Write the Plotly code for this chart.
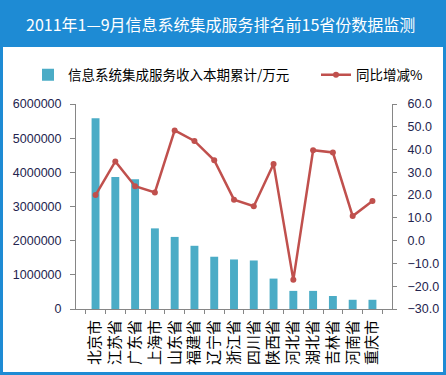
import plotly.graph_objects as go

categories = ["北京市", "江苏省", "广东省", "上海市", "山东省", "福建省", "辽宁省", "浙江省",
              "四川省", "陕西省", "河北省", "湖北省", "吉林省", "河南省", "重庆市"]
revenue = [5580000, 3860000, 3800000, 2360000, 2110000, 1850000, 1530000, 1450000,
           1420000, 890000, 530000, 530000, 380000, 270000, 270000]
growth = [20.0, 34.8, 23.9, 21.2, 48.4, 43.8, 35.3, 18.0, 15.1, 33.7, -17.2, 39.7, 38.7, 10.8, 17.4]

bar_name = "信息系统集成服务收入本期累计/万元"
line_name = "同比增减%"
title_text = "2011年1—9月信息系统集成服务排名前15省份数据监测"

W, H = 446, 375
L, R, T, B = 76, 392, 104, 309
def px(p):
    return (p - L) / (R - L)
def py(p):
    return (B - p) / (B - T)

BLUE = "#1E8BD4"
AX = "#868686"
TICKC = "#24244E"
FONT = "Noto Sans CJK SC, Noto Sans, sans-serif"
NUMFONT = "Liberation Sans, Arial, sans-serif"

fig = go.Figure()
fig.add_trace(go.Bar(x=categories, y=revenue, name=bar_name, marker_color="#4BACC6",
                     marker_line_width=0, yaxis="y", legend="legend"))
fig.add_trace(go.Scatter(x=categories, y=growth, name=line_name, mode="lines+markers",
                         line=dict(color="#C0504D", width=2.5),
                         marker=dict(color="#C0504D", size=6), yaxis="y2", legend="legend2"))

legend_common = dict(orientation="h", yanchor="middle", itemwidth=30,
                     font=dict(size=13.5, family=FONT, color="#000000"),
                     bgcolor="rgba(0,0,0,0)")

fig.update_layout(
    width=W, height=H,
    margin=dict(l=L, r=W - R, t=T, b=H - B, pad=0, autoexpand=False),
    paper_bgcolor=BLUE, plot_bgcolor="white",
    bargap=0.6,
    font=dict(family=FONT, color="#000000"),
    showlegend=True,
    legend=dict(x=px(28), xanchor="left", y=py(75), **legend_common),
    legend2=dict(x=px(316), xanchor="left", y=py(75), **legend_common),
    xaxis=dict(showline=True, linecolor=AX, linewidth=1, ticks="outside", ticklen=4,
               tickcolor=AX, tickson="boundaries", tickangle=-90,
               tickfont=dict(size=15, family=FONT, color="#000000"),
               showgrid=False, zeroline=False, ticklabelstandoff=4, automargin=False),
    yaxis=dict(range=[0, 6000000], dtick=1000000, tickformat="d", showline=True,
               linecolor=AX, linewidth=1, ticks="outside", ticklen=5, tickcolor=AX,
               tickfont=dict(size=12.5, family=NUMFONT, color=TICKC),
               showgrid=False, zeroline=False, ticklabelstandoff=6, automargin=False),
    yaxis2=dict(range=[-30, 60], dtick=10, tickformat=".1f", overlaying="y", side="right",
                showline=True, linecolor=AX, linewidth=1, ticks="outside", ticklen=4,
                tickcolor=AX,
                tickfont=dict(size=12.5, family=NUMFONT, color=TICKC),
                showgrid=False, zeroline=False, ticklabelstandoff=8, automargin=False),
    shapes=[dict(type="rect", xref="paper", yref="paper", layer="below",
                 x0=px(3), x1=px(443), y0=py(372), y1=py(47),
                 fillcolor="white", line_width=0)],
    annotations=[dict(text=title_text, xref="paper", yref="paper", x=px(220), y=py(24),
                      xanchor="center", yanchor="middle", showarrow=False,
                      font=dict(size=16, color="white", family=FONT))],
)

fig.write_html("out.html", config={"displayModeBar": False},
               post_script="document.body.style.margin='0';document.body.style.padding='0';")
